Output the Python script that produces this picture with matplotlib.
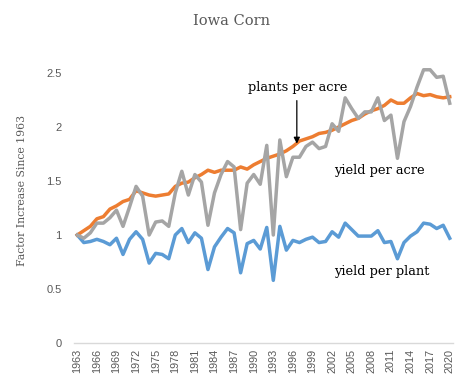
import matplotlib
matplotlib.use("Agg")
import matplotlib.pyplot as plt

years = list(range(1963, 2021))

yield_per_acre = [1.00, 0.97, 1.02, 1.11, 1.11, 1.16, 1.23, 1.08, 1.26, 1.45,
                  1.36, 1.00, 1.12, 1.13, 1.08, 1.39, 1.59, 1.37, 1.56, 1.49,
                  1.09, 1.39, 1.56, 1.68, 1.63, 1.05, 1.48, 1.56, 1.47, 1.83,
                  1.00, 1.88, 1.54, 1.72, 1.72, 1.82, 1.86, 1.80, 1.82, 2.03,
                  1.96, 2.27, 2.17, 2.08, 2.14, 2.14, 2.27, 2.06, 2.11, 1.71,
                  2.05, 2.19, 2.37, 2.53, 2.53, 2.46, 2.47, 2.22]

plants_per_acre = [1.00, 1.04, 1.08, 1.15, 1.17, 1.24, 1.27, 1.31, 1.33, 1.41,
                   1.39, 1.37, 1.36, 1.37, 1.38, 1.45, 1.48, 1.49, 1.53, 1.56,
                   1.60, 1.58, 1.60, 1.60, 1.60, 1.63, 1.61, 1.65, 1.68, 1.71,
                   1.73, 1.75, 1.78, 1.82, 1.87, 1.89, 1.91, 1.94, 1.95, 1.97,
                   2.00, 2.03, 2.06, 2.08, 2.12, 2.15, 2.17, 2.20, 2.25, 2.22,
                   2.22, 2.27, 2.31, 2.29, 2.30, 2.28, 2.27, 2.28]

yield_per_plant = [1.00, 0.93, 0.94, 0.96, 0.94, 0.91, 0.97, 0.82, 0.96, 1.03,
                   0.96, 0.74, 0.83, 0.82, 0.78, 1.00, 1.06, 0.93, 1.02, 0.97,
                   0.68, 0.89, 0.98, 1.06, 1.02, 0.65, 0.92, 0.95, 0.87, 1.07,
                   0.58, 1.08, 0.86, 0.95, 0.93, 0.96, 0.98, 0.93, 0.94, 1.03,
                   0.98, 1.11, 1.05, 0.99, 0.99, 0.99, 1.04, 0.93, 0.94, 0.78,
                   0.93, 0.99, 1.03, 1.11, 1.10, 1.06, 1.09, 0.97]

tick_years = list(range(1963, 2021, 3))
y_ticks = [0, 0.5, 1, 1.5, 2, 2.5]
y_tick_labels = ["0", "0.5", "1", "1.5", "2", "2.5"]

fig = plt.figure(figsize=(4.67, 3.90), dpi=100)
ax = fig.add_axes([74/467, 1 - 343/390, (453-74)/467, (343-46)/390])

lw = 2.5
ax.plot(years, yield_per_plant, color="#5B9BD5", lw=lw, solid_joinstyle="round")
ax.plot(years, plants_per_acre, color="#ED7D31", lw=lw, solid_joinstyle="round")
ax.plot(years, yield_per_acre, color="#A5A5A5", lw=lw, solid_joinstyle="round")

ax.set_xlim(1962.5, 2020.5)
ax.set_ylim(0, 2.75)
ax.set_xticks(tick_years)
ax.set_xticklabels([str(y) for y in tick_years], rotation=90,
                   fontsize=7.8, color="#595959", family="Liberation Sans")
ax.set_yticks(y_ticks)
ax.set_yticklabels(y_tick_labels, fontsize=8, color="#595959", family="Liberation Sans")
ax.tick_params(axis="both", length=0, pad=4)
ax.tick_params(axis="y", pad=9)
for s in ["top", "right", "left"]:
    ax.spines[s].set_visible(False)
ax.spines["bottom"].set_color("#D9D9D9")
ax.spines["bottom"].set_linewidth(1)

fig.text(232/467, 1 - 21/390, "Iowa Corn", ha="center", va="center",
         fontsize=10.5, color="#595959", family="DejaVu Serif")
fig.text(22/467, 1 - 190/390, "Factor Increase Since 1963", rotation=90,
         ha="center", va="center", fontsize=7.8, color="#595959", family="DejaVu Serif")

ax.text(1996.7, 2.37, "plants per acre", ha="center", va="center",
        fontsize=9.4, color="black", family="DejaVu Serif")
ax.text(2009.2, 1.60, "yield per acre", ha="center", va="center",
        fontsize=9.4, color="black", family="DejaVu Serif")
ax.text(2009.6, 0.66, "yield per plant", ha="center", va="center",
        fontsize=9.4, color="black", family="DejaVu Serif")
ax.annotate("", xy=(1996.6, 1.82), xytext=(1996.6, 2.27),
            arrowprops=dict(arrowstyle="-|>", color="black", lw=0.9, mutation_scale=9))

fig.savefig("out.png", dpi=100, facecolor="white")
